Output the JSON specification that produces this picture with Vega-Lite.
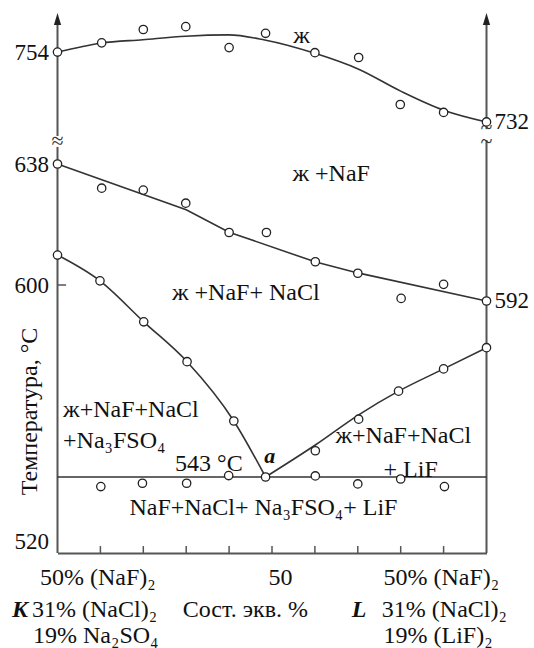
{
  "$schema": "https://vega.github.io/schema/vega-lite/v6.json",
  "width": 429,
  "height": 540,
  "autosize": "none",
  "padding": {"left": 57.5, "top": 13, "right": 47.5, "bottom": 95},
  "background": "white",
  "config": {"view": {"stroke": null}},
  "datasets": {
    "xticks": [{"c": 10, "t": 520}, {"c": 20, "t": 520}, {"c": 30, "t": 520}, {"c": 40, "t": 520}, {"c": 50, "t": 520}, {"c": 60, "t": 520}, {"c": 70, "t": 520}, {"c": 80, "t": 520}, {"c": 90, "t": 520}],
    "ytick": [{"c": 0, "t": 600}],
    "vaxes": [{"c": 0, "t": 520}, {"c": 100, "t": 520}],
    "breakgap": [{"c": 0, "t": 690}, {"c": 100, "t": 728}],
    "breakglyph": [{"c": 0, "t": 690, "g": "≈"}, {"c": 100, "t": 730.4, "g": "~"}, {"c": 100, "t": 700, "g": "~"}],
    "arrows": [{"c": 0, "t": 764.4}, {"c": 100, "t": 764.4}],
    "lines": [
      {"s": "L1", "c": 0, "t": 754}, {"s": "L1", "c": 10.1, "t": 756.8}, {"s": "L1", "c": 19.9, "t": 757.9}, {"s": "L1", "c": 29.9, "t": 759.0}, {"s": "L1", "c": 39.9, "t": 759.4}, {"s": "L1", "c": 48.3, "t": 757.8}, {"s": "L1", "c": 60, "t": 753.6}, {"s": "L1", "c": 70.2, "t": 748.6}, {"s": "L1", "c": 80, "t": 741.7}, {"s": "L1", "c": 90, "t": 735.7}, {"s": "L1", "c": 100, "t": 732},
      {"s": "L2", "c": 0, "t": 638}, {"s": "L2", "c": 30, "t": 623.6}, {"s": "L2", "c": 40, "t": 616.6}, {"s": "L2", "c": 60.2, "t": 607.2}, {"s": "L2", "c": 70, "t": 603.8}, {"s": "L2", "c": 100, "t": 592},
      {"s": "L3", "c": 0, "t": 609.4}, {"s": "L3", "c": 9.9, "t": 601.3}, {"s": "L3", "c": 20.1, "t": 586.2}, {"s": "L3", "c": 30.2, "t": 575.1}, {"s": "L3", "c": 41.1, "t": 558.6}, {"s": "L3", "c": 48.5, "t": 543},
      {"s": "L4", "c": 48.5, "t": 543}, {"s": "L4", "c": 60.1, "t": 551.9}, {"s": "L4", "c": 70.2, "t": 560.3}, {"s": "L4", "c": 79.5, "t": 566.9}, {"s": "L4", "c": 90, "t": 573.1}, {"s": "L4", "c": 100, "t": 579},
      {"s": "L5", "c": 0, "t": 543}, {"s": "L5", "c": 100, "t": 543}
    ],
    "pts": [
      {"c": 0, "t": 754}, {"c": 10.3, "t": 756.9}, {"c": 20, "t": 761.1}, {"c": 29.9, "t": 762}, {"c": 40, "t": 755.4}, {"c": 48.5, "t": 759.9}, {"c": 60, "t": 753.8}, {"c": 70.2, "t": 752.3}, {"c": 79.9, "t": 737.5}, {"c": 90, "t": 735}, {"c": 100, "t": 732},
      {"c": 0, "t": 638}, {"c": 10.3, "t": 630.4}, {"c": 20, "t": 629.8}, {"c": 29.9, "t": 625.7}, {"c": 40, "t": 616.5}, {"c": 48.7, "t": 616.5}, {"c": 60.1, "t": 607.3}, {"c": 70, "t": 603.7}, {"c": 80.1, "t": 593.3}, {"c": 90, "t": 600.2}, {"c": 100, "t": 592},
      {"c": 0, "t": 609.4}, {"c": 9.9, "t": 601.3}, {"c": 20.1, "t": 586.2}, {"c": 30.2, "t": 575.1}, {"c": 41.1, "t": 558.6},
      {"c": 48.5, "t": 543},
      {"c": 60.1, "t": 550.3}, {"c": 70.2, "t": 559.1}, {"c": 79.5, "t": 566.9}, {"c": 90, "t": 573.1}, {"c": 100, "t": 579},
      {"c": 10.1, "t": 540.1}, {"c": 19.8, "t": 541.1}, {"c": 30.1, "t": 541.1}, {"c": 39.9, "t": 543.4}, {"c": 60.1, "t": 543.3}, {"c": 70, "t": 540.9}, {"c": 80, "t": 542.4}, {"c": 90.2, "t": 540.1}
    ],
    "txtc": [
      {"c": 56.9, "t": 756.7, "label": "ж"},
      {"c": 63.8, "t": 632.7, "label": "ж +NaF"},
      {"c": 43.9, "t": 592.5, "label": "ж +NaF+ NaCl"},
      {"c": 48.0, "t": 531.5, "label": "NaF+NaCl+ Na₃FSO₄+ LiF"}
    ],
    "txtl": [
      {"c": 1.3, "t": 559.8, "label": "ж+NaF+NaCl"},
      {"c": 1.3, "t": 551.0, "label": "+Na₃FSO₄"},
      {"c": 27.4, "t": 544.7, "label": "543 °C"},
      {"c": 64.8, "t": 552.5, "label": "ж+NaF+NaCl"},
      {"c": 76.0, "t": 543.1, "label": "+ LiF"}
    ],
    "eut": [{"c": 49.5, "t": 546.9, "label": "a"}],
    "side": [{"c": 100, "t": 732, "label": "732"}, {"c": 100, "t": 592, "label": "592"}],
    "bottom": [
      {"c": -4.07, "t": 510.3, "label": "50% (NaF)₂"},
      {"c": -5.94, "t": 500.5, "label": "31% (NaCl)₂"},
      {"c": -5.7, "t": 492.7, "label": "19%  Na₂SO₄"},
      {"c": 49.2, "t": 510.3, "label": "50"},
      {"c": 29.2, "t": 500.5, "label": "Сост. экв. %"},
      {"c": 76.0, "t": 510.3, "label": "50% (NaF)₂"},
      {"c": 75.6, "t": 500.5, "label": "31% (NaCl)₂"},
      {"c": 76.0, "t": 492.7, "label": "19%  (LiF)₂"}
    ],
    "corners": [{"c": -10.6, "t": 500.5, "label": "K"}, {"c": 68.6, "t": 500.5, "label": "L"}]
  },
  "encoding": {
    "x": {
      "field": "c", "type": "quantitative",
      "scale": {"domain": [0, 100], "nice": false, "zero": false},
      "axis": {"labels": false, "ticks": false, "grid": false, "title": null, "domainColor": "#555", "domainWidth": 2}
    },
    "y": {
      "field": "t", "type": "quantitative",
      "scale": {"domain": [520, 543, 592, 600, 638, 645, 726, 766.3], "range": [540, 464, 288, 272, 151, 129, 128, 0], "nice": false, "zero": false},
      "axis": {
        "values": [520, 600, 638, 754],
        "title": "Температура, °C",
        "titleFont": "Liberation Serif", "titleFontSize": 24, "titleFontWeight": "normal", "titleColor": "#111",
        "titleX": -28.5, "titleY": 398, "titleAngle": -90, "titleBaseline": "middle", "titleAlign": "center",
        "labelFont": "Liberation Serif", "labelFontSize": 23, "labelColor": "#111", "labelPadding": 9,
        "labelOverlap": false,
        "labelBaseline": {"condition": {"test": "datum.value === 520", "value": "bottom"}, "value": "middle"},
        "ticks": false, "domain": false, "grid": false
      }
    }
  },
  "layer": [
    {"data": {"name": "xticks"}, "mark": {"type": "rule", "color": "#555", "strokeWidth": 1.5}, "encoding": {"y2": {"datum": 522.1}}},
    {"data": {"name": "ytick"}, "mark": {"type": "rule", "color": "#555", "strokeWidth": 1.5}, "encoding": {"x2": {"datum": 2}}},
    {"data": {"name": "vaxes"}, "mark": {"type": "rule", "color": "#555", "strokeWidth": 2}, "encoding": {"y2": {"datum": 764.5}}},
    {"data": {"name": "breakgap"}, "mark": {"type": "point", "shape": "square", "filled": true, "color": "white", "opacity": 1, "size": 120}},
    {"data": {"name": "breakglyph"}, "mark": {"type": "text", "font": "Liberation Serif", "fontSize": 22, "color": "#333", "baseline": "middle", "align": "center"}, "encoding": {"text": {"field": "g"}}},
    {"data": {"name": "arrows"}, "mark": {"type": "point", "shape": "M0,-1L0.6,1L-0.6,1Z", "filled": true, "color": "#222", "opacity": 1, "size": 144}},
    {"data": {"name": "lines"}, "transform": [{"filter": "datum.s === 'L2' || datum.s === 'L5'"}], "mark": {"type": "line", "interpolate": "linear", "color": "#333", "strokeWidth": 1.6}, "encoding": {"detail": {"field": "s"}}},
    {"data": {"name": "lines"}, "transform": [{"filter": "datum.s !== 'L2' && datum.s !== 'L5'"}], "mark": {"type": "line", "interpolate": "monotone", "color": "#333", "strokeWidth": 1.6}, "encoding": {"detail": {"field": "s"}}},
    {"data": {"name": "pts"}, "mark": {"type": "point", "shape": "circle", "filled": true, "fill": "white", "stroke": "#222", "strokeWidth": 1.3, "opacity": 1, "size": 70}},
    {"data": {"name": "txtc"}, "mark": {"type": "text", "font": "Liberation Serif", "fontSize": 24, "color": "#111", "align": "center", "baseline": "alphabetic"}, "encoding": {"text": {"field": "label"}}},
    {"data": {"name": "txtl"}, "mark": {"type": "text", "font": "Liberation Serif", "fontSize": 24, "color": "#111", "align": "left", "baseline": "alphabetic"}, "encoding": {"text": {"field": "label"}}},
    {"data": {"name": "eut"}, "mark": {"type": "text", "font": "Liberation Serif", "fontSize": 22, "fontWeight": "bold", "fontStyle": "italic", "color": "#111", "align": "center", "baseline": "alphabetic"}, "encoding": {"text": {"field": "label"}}},
    {"data": {"name": "side"}, "mark": {"type": "text", "font": "Liberation Serif", "fontSize": 23, "color": "#111", "align": "left", "baseline": "middle", "dx": 8}, "encoding": {"text": {"field": "label"}}},
    {"data": {"name": "bottom"}, "mark": {"type": "text", "font": "Liberation Serif", "fontSize": 24, "color": "#111", "align": "left", "baseline": "alphabetic"}, "encoding": {"text": {"field": "label"}}},
    {"data": {"name": "corners"}, "mark": {"type": "text", "font": "Liberation Serif", "fontSize": 24, "fontWeight": "bold", "fontStyle": "italic", "color": "#111", "align": "left", "baseline": "alphabetic"}, "encoding": {"text": {"field": "label"}}}
  ]
}
